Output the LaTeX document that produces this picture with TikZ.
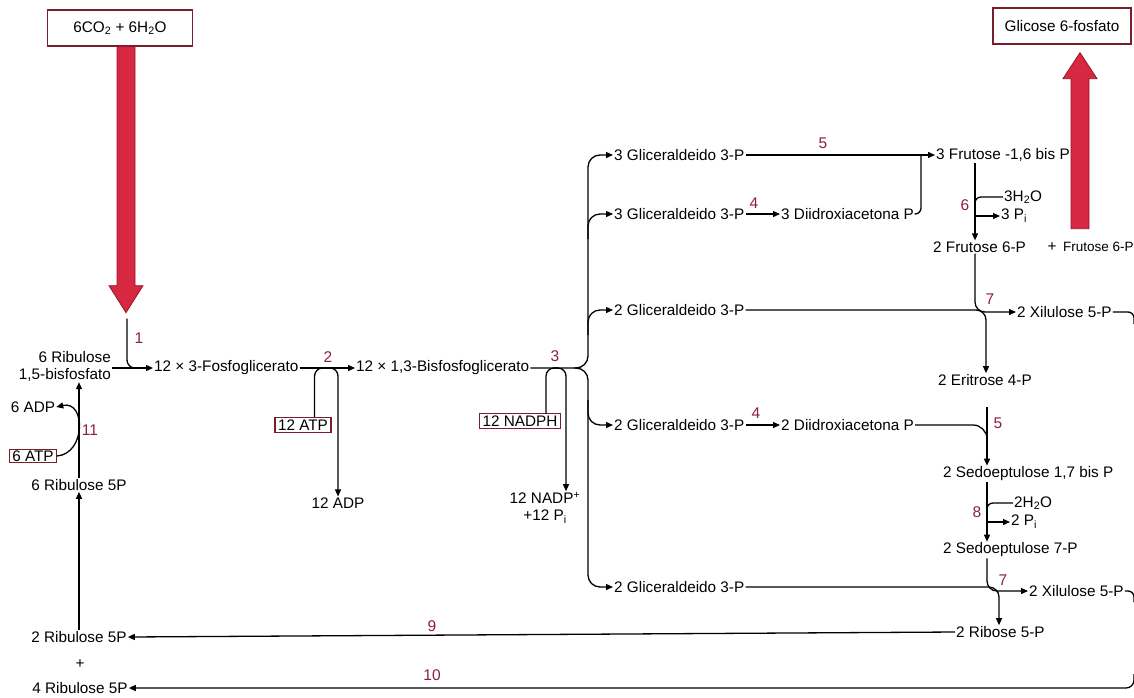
\documentclass[tikz,border=0pt]{standalone}
\usepackage{fontspec}
\setmainfont{Liberation Sans}
\usetikzlibrary{arrows.meta,calc}

\definecolor{calvinStepColor}{RGB}{140,30,75}
\definecolor{calvinBoxColor}{RGB}{120,30,45}
\definecolor{calvinRed}{RGB}{215,40,65}
\definecolor{calvinRedDark}{RGB}{150,20,40}

\begin{document}
\begin{tikzpicture}[
    x=1pt, y=-1pt,
    calvinLine/.style={line width=1.3pt, line join=round},
    calvinArrow/.style={calvinLine, -{Triangle[length=7pt,width=6pt]}},
    calvinText/.style={font=\fontsize{15.3}{17}\selectfont, inner sep=1pt},
    calvinStep/.style={text=calvinStepColor, font=\fontsize{15.5}{17}\selectfont, inner sep=1pt},
    calvinBox/.style={calvinText, draw=calvinBoxColor, line width=1.3pt, inner xsep=3pt, inner ysep=2pt},
    calvinBig/.style={fill=calvinRed, draw=calvinRedDark, line width=0.8pt}
]
    \fill[white] (0,0) rectangle (1134,697);
    \useasboundingbox (0,0) rectangle (1134,697);

    % entrada e saida
    \node[calvinBox, minimum width=145pt, minimum height=36pt] (co2) at (120,28) {6CO\textsubscript{2} + 6H\textsubscript{2}O};
    \node[calvinBox, minimum width=138pt, minimum height=36pt] (g6p) at (1062,26) {Glicose 6-fosfato};

    \begin{scope}[shift={(co2.south)}]
        \draw[calvinBig] (-3,0) -- (15,0) -- (15,239) -- (23,239) -- (6,266) -- (-11,239) -- (-3,239) -- cycle;
        \coordinate (co2Tip) at (6,266);
    \end{scope}
    \begin{scope}[shift={(g6p.south)}]
        \draw[calvinBig] (9,184) -- (27,184) -- (27,34) -- (35,34) -- (18,8) -- (1,34) -- (9,34) -- cycle;
    \end{scope}

    % colunas
    \coordinate (colT) at (588,0);
    \coordinate (colH) at (921,0);
    \coordinate (colF) at (975,0);
    \coordinate (colG) at (986,0);
    \coordinate (colS) at (987,0);
    \coordinate (colR) at (999,0);
    \coordinate (colN) at (566,0);
    \coordinate (edgeA) at (1134,324);
    \coordinate (edgeB) at (1134,602);
    \coordinate (edgeC) at (1134,674);

    % fase de carboxilacao e reducao
    \node[calvinText, align=right, anchor=east] (rubp) at (112,366) {6 Ribulose\\1,5-bisfosfato};
    \node[calvinText, anchor=west] (pga) at (153,368) {12 × 3-Fosfoglicerato};
    \node[calvinText, anchor=west] (bpg) at (355,368) {12 × 1,3-Bisfosfoglicerato};
    \node[calvinBox] (atp12) at (303,425) {12 ATP};
    \node[calvinText] (adp12) at (338,503) {12 ADP};
    \node[calvinBox] (nadph) at (520,421) {12 NADPH};
    \node[calvinText, align=center] (nadp) at (545,508) {12 NADP\textsuperscript{+}\\+12 P\textsubscript{i}};

    \node[calvinStep] (s1) at (139,338) {1};
    \node[calvinStep] (s2) at (328,357) {2};
    \node[calvinStep] (s3) at (555,356) {3};

    \draw[calvinArrow] (rubp.east |- pga.west) -- (pga.west);
    \draw[calvinLine, rounded corners=8pt] ($(co2Tip)+(1,6)$) |- (142,368);
    \draw[calvinArrow] (pga) -- (bpg);
    \draw[calvinLine, rounded corners=8pt] ($(atp12.north east)+(-17,0)$) |- (332,368);
    \draw[calvinArrow, rounded corners=8pt] (326,368) -| (adp12.north);
    \draw[calvinLine, rounded corners=8pt] ($(nadph.north east)+(-15,0)$) |- (558,368);
    \draw[calvinArrow, rounded corners=8pt] (553,368) -| (nadp.north -| colN);

    % gliceraldeidos
    \node[calvinText, anchor=west] (gaA) at (613,155) {3 Gliceraldeido 3-P};
    \node[calvinText, anchor=west] (gaB) at (613,214) {3 Gliceraldeido 3-P};
    \node[calvinText, anchor=west] (dhaB) at (780,214) {3 Diidroxiacetona P};
    \node[calvinText, anchor=west] (gaC) at (613,310) {2 Gliceraldeido 3-P};
    \node[calvinText, anchor=west] (gaD) at (613,425) {2 Gliceraldeido 3-P};
    \node[calvinText, anchor=west] (dhaD) at (780,425) {2 Diidroxiacetona P};
    \node[calvinText, anchor=west] (gaE) at (613,587) {2 Gliceraldeido 3-P};

    \draw[calvinArrow, rounded corners=12pt] (bpg.east) -- (bpg.east -| colT) -- (gaA.west -| colT) -- (gaA.west);
    \draw[calvinArrow, rounded corners=12pt] ($(bpg.east -| colT)+(-14,0)$) -- (bpg.east -| colT) -- (gaE.west -| colT) -- (gaE.west);
    \draw[calvinArrow, rounded corners=12pt] ($(gaB.west -| colT)+(0,25)$) -- (gaB.west -| colT) -- (gaB.west);
    \draw[calvinArrow, rounded corners=12pt] ($(gaC.west -| colT)+(0,25)$) -- (gaC.west -| colT) -- (gaC.west);
    \draw[calvinArrow, rounded corners=12pt] ($(gaD.west -| colT)+(0,-25)$) -- (gaD.west -| colT) -- (gaD.west);

    \node[calvinStep] (s4a) at (754,203) {4};
    \node[calvinStep] (s4b) at (756,413) {4};
    \draw[calvinArrow] (gaB) -- (dhaB);
    \draw[calvinArrow] (gaD) -- (dhaD);

    % frutose
    \node[calvinText, anchor=west] (fbp) at (935,155) {3 Frutose -1,6 bis P};
    \node[calvinStep] (s5a) at (823,143) {5};
    \draw[calvinArrow] (gaA) -- (fbp);
    \draw[calvinLine, rounded corners=6pt] (dhaB.east) -- (dhaB.east -| colH) -- (fbp.west -| colH);

    \node[calvinText, anchor=west] (h2oA) at (1003,197) {3H\textsubscript{2}O};
    \node[calvinText, anchor=west] (piA) at (1000,216) {3 P\textsubscript{i}};
    \node[calvinStep] (s6) at (965,205) {6};
    \node[calvinText, anchor=west] (f6pA) at (932,247) {2 Frutose 6-P};
    \node[calvinText] (f6pPlus) at (1052,247) {+};
    \node[calvinText, anchor=west, font=\fontsize{13.5}{15}\selectfont] (f6pB) at (1062,247) {Frutose 6-P};
    \draw[calvinArrow] (fbp.south -| colF) -- (f6pA.north -| colF);
    \draw[calvinLine, rounded corners=6pt] ($(h2oA.west -| colF)+(0,10)$) -- (h2oA.west -| colF) -- (h2oA.west);
    \draw[calvinArrow] (piA.west -| colF) -- (piA.west);

    % transcetolase
    \node[calvinText, anchor=west] (xuA) at (1016,312) {2 Xilulose 5-P};
    \node[calvinText] (e4p) at (985,380) {2 Eritrose 4-P};
    \node[calvinStep] (s7a) at (990,299) {7};
    \draw[calvinArrow, rounded corners=10pt] (f6pA.south -| colF) -- (xuA.west -| colF) -- (xuA.west);
    \draw[calvinArrow, rounded corners=10pt] (gaC.east) -- (gaC.east -| colG) -- (e4p.north -| colG);
    \draw[calvinLine, rounded corners=6pt] (xuA.east) -| (edgeA);

    % sedoeptulose
    \node[calvinText, anchor=west] (sbp) at (942,474) {2 Sedoeptulose 1,7 bis P};
    \node[calvinStep] (s5b) at (998,423) {5};
    \draw[calvinArrow] ($(e4p.south -| colS)+(0,20)$) -- (sbp.north -| colS);
    \draw[calvinLine, rounded corners=14pt] (dhaD.east) -- (dhaD.east -| colS) -- ++(0,18);

    \node[calvinText, anchor=west] (h2oB) at (1013,503) {2H\textsubscript{2}O};
    \node[calvinText, anchor=west] (piB) at (1010,522) {2 P\textsubscript{i}};
    \node[calvinStep] (s8) at (977,512) {8};
    \node[calvinText, anchor=west] (s7p) at (942,550) {2 Sedoeptulose 7-P};
    \draw[calvinArrow] (sbp.south -| colS) -- (s7p.north -| colS);
    \draw[calvinLine, rounded corners=6pt] ($(h2oB.west -| colS)+(0,10)$) -- (h2oB.west -| colS) -- (h2oB.west);
    \draw[calvinArrow] (piB.west -| colS) -- (piB.west);

    \node[calvinText, anchor=west] (xuB) at (1028,591) {2 Xilulose 5-P};
    \node[calvinText, anchor=west] (r5p) at (955,632) {2 Ribose 5-P};
    \node[calvinStep] (s7b) at (1003,580) {7};
    \draw[calvinArrow, rounded corners=10pt] (s7p.south -| colS) -- (xuB.west -| colS) -- (xuB.west);
    \draw[calvinArrow, rounded corners=10pt] (gaE.east) -- (gaE.east -| colR) -- (r5p.north -| colR);
    \draw[calvinLine, rounded corners=6pt] (xuB.east) -| (edgeB);

    % regeneracao da ribulose
    \node[calvinText] (ru5pA) at (79,637) {2 Ribulose 5P};
    \node[calvinText] (plusL) at (80,664) {+};
    \node[calvinText] (ru5pB) at (80,688) {4 Ribulose 5P};
    \node[calvinText] (ru5pC) at (79,485) {6 Ribulose 5P};
    \node[calvinBox, inner xsep=2.5pt, inner ysep=1pt] (atp6) at (33,456) {6 ATP};
    \node[calvinText] (adp6) at (33,407) {6 ADP};
    \node[calvinStep] (s9) at (432,626) {9};
    \node[calvinStep] (s10) at (432,675) {10};
    \node[calvinStep] (s11) at (90,430) {11};

    \draw[calvinArrow] (r5p.west) -- (ru5pA.east);
    \draw[calvinArrow, rounded corners=8pt] (edgeC) |- (ru5pB.east);
    \draw[calvinArrow] (ru5pA.north) -- (ru5pC.south);
    \draw[calvinArrow] (ru5pC.north) -- (ru5pC.north |- rubp.south);
    \draw[calvinArrow] (atp6.east) .. controls (86,454) and (86,400) .. (adp6.east);
\end{tikzpicture}
\end{document}
